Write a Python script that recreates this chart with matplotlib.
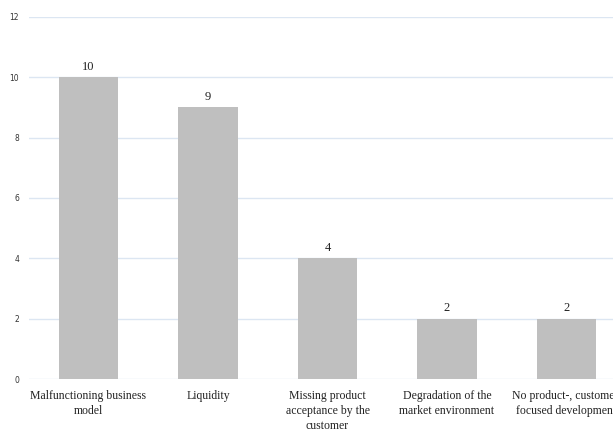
import matplotlib
matplotlib.use('Agg')
from matplotlib import pyplot as plt

categories = ['Malfunctioning business\nmodel', 'Liquidity',
              'Missing product\nacceptance by the\ncustomer',
              'Degradation of the\nmarket environment',
              'No product-, customer-\nfocused development']
values = [10, 9, 4, 2, 2]
yticks = [0, 2, 4, 6, 8, 10, 12]

fig = plt.figure(figsize=(6.13, 4.32), dpi=100)
# the original is cut off on the right, so the axes runs past the figure edge
ax = fig.add_axes([28.75 / 613, 52.7 / 432, 597.5 / 613, 362.6 / 432])

x = range(len(values))
bars = ax.bar(x, values, width=0.5, color='#bfbfbf', zorder=2)
for xi, v in zip(x, values):
    ax.text(xi, v + 0.15, str(v), ha='center', va='bottom',
            family='Liberation Serif', fontsize=9, color='#222222')

ax.set_xlim(-0.5, len(values) - 0.5)
ax.set_ylim(0, 12)
ax.set_yticks(yticks)
ax.set_yticklabels([str(t) for t in yticks], fontsize=5.5, color='#333333')
ax.set_xticks(list(x))
ax.set_xticklabels(categories, family='Liberation Serif', fontsize=8.5,
                   color='#222222', linespacing=1.3)
ax.tick_params(axis='both', length=0)
ax.tick_params(axis='y', pad=7)
ax.tick_params(axis='x', pad=8)

ax.grid(True, axis='y', color='#dce6f2', linewidth=1, zorder=0)
for s in ax.spines.values():
    s.set_visible(False)

plt.savefig('out.png', dpi=100)
